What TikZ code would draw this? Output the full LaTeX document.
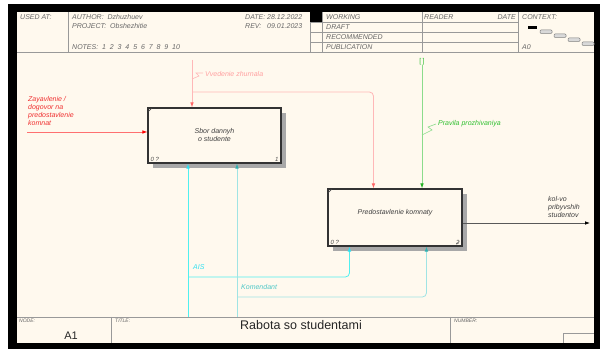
\documentclass[tikz,border=0pt]{standalone}
\usepackage{fontspec}
\setmainfont{Liberation Sans}
\usetikzlibrary{arrows.meta}
\definecolor{bgc}{HTML}{FFF9EE}
\definecolor{hdtxt}{HTML}{666666}
\definecolor{hdline}{HTML}{999999}
\definecolor{redtxt}{HTML}{F03030}
\definecolor{redln}{HTML}{FF7070}
\definecolor{pinkln}{HTML}{FFB8B8}
\definecolor{pinktxt}{HTML}{FFA0A0}
\definecolor{grnln}{HTML}{8CDC8C}
\definecolor{grntxt}{HTML}{30C030}
\definecolor{grntip}{HTML}{20B020}
\definecolor{aisln}{HTML}{50F0F0}
\definecolor{aistxt}{HTML}{30E0F0}
\definecolor{komln}{HTML}{A0E4E4}
\definecolor{komtxt}{HTML}{50C8C8}
\definecolor{komtip}{HTML}{30B0B0}
\definecolor{shadc}{HTML}{A8A8A8}
\begin{document}
\begin{tikzpicture}[x=1pt,y=-1pt,
  hd/.style={font=\fontsize{7}{8}\selectfont\itshape, text=hdtxt, inner sep=0pt, anchor=west},
  ft/.style={font=\fontsize{5}{6}\selectfont\itshape, text=hdtxt, inner sep=0pt, anchor=west},
  hline/.style={draw=hdline, line width=0.6pt},
  lbl/.style={font=\fontsize{7}{8}\selectfont\itshape, inner sep=0pt, anchor=west, align=left},
  boxn/.style={draw=black!80, line width=1.1pt, fill=bgc, minimum width=133pt, minimum height=55pt, inner sep=0pt},
  boxtxt/.style={font=\fontsize{7}{8.5}\selectfont\itshape, text=black!75, align=center, inner sep=0pt},
  corner/.style={font=\fontsize{6}{7}\selectfont\itshape, text=black!70, inner sep=0pt},
  arr/.style={line width=0.8pt}
]
\useasboundingbox (0,0) rectangle (602,352);
\fill[white] (0,0) rectangle (602,352);
\fill[black] (8,4) rectangle (600,349);
\fill[bgc] (17,12) rectangle (594,343);

% header
\draw[hline] (17,52) -- (594,52);
\draw[hline] (68,12) -- (68,52);
\draw[hline] (310,12) -- (310,52);
\draw[hline] (322,12) -- (322,52);
\draw[hline] (422,12) -- (422,52);
\draw[hline] (518,12) -- (518,52);
\foreach \yy in {22,32,42} \draw[hline] (310,\yy) -- (518,\yy);
\fill[black] (310,12) rectangle (322,22);

\node[hd] (usedat) at (20,17) {USED AT:};
\node[hd] (author) at (72,17) {AUTHOR:\ \ Dzhuzhuev};
\node[hd] (project) at (72,26) {PROJECT:\ \ Obshezhitie};
\node[hd] (notes) at (72,47) {NOTES:\ \ 1\ \ 2\ \ 3\ \ 4\ \ 5\ \ 6\ \ 7\ \ 8\ \ 9\ \ 10};
\node[hd] (datek) at (245,17) {DATE:};
\node[hd] (datev) at (267,17) {28.12.2022};
\node[hd] (revk) at (245,26) {REV:};
\node[hd] (revv) at (267,26) {09.01.2023};
\node[hd] (working) at (326,17) {WORKING};
\node[hd] (draft) at (326,27) {DRAFT};
\node[hd] (recom) at (326,37) {RECOMMENDED};
\node[hd] (publ) at (326,47) {PUBLICATION};
\node[hd] (reader) at (424,17) {READER};
\node[hd, anchor=east] (rdate) at (516,17) {DATE};
\node[hd] (context) at (522,17) {CONTEXT:};
\node[hd] (a0) at (522,47) {A0};
\fill[black] (528,26) rectangle (537,29);
\foreach \xa/\ya in {540/30,554/34,568/38,582/42}
  \draw[draw=gray, fill=black!15, line width=0.5pt, rounded corners=1pt] (\xa,\ya) rectangle ++(12,3.5);

% footer
\draw[hline] (17,317) -- (594,317);
\draw[hline] (111,317) -- (111,343);
\draw[hline] (450,317) -- (450,343);
\draw[hline] (563,343) -- (563,333) -- (594,333);
\node[ft] (nodek) at (19,321) {NODE:};
\node[font=\fontsize{11}{12}\selectfont, text=black!85, inner sep=0pt] (nodev) at (71,336) {A1};
\node[ft] (titlek) at (115,321) {TITLE:};
\node[font=\fontsize{12.5}{14}\selectfont, text=black!85, inner sep=0pt] (title) at (301,325) {Rabota so studentami};
\node[ft] (numk) at (454,321) {NUMBER:};

% boxes with shadows
\fill[shadc] (153,113) rectangle (286,168);
\fill[shadc] (333,194) rectangle (467,251);
\node[boxn] (b1) at (214.5,135.5) {};
\node[boxn, minimum width=134pt, minimum height=57pt] (b2) at (395,217.5) {};
\node[boxtxt] (b1t) at (214.5,135) {Sbor dannyh\\o studente};
\node[boxtxt] (b2t) at (395,213) {Predostavlenie komnaty};
\node[corner, anchor=south west] (b1n) at ([shift={(3,-2)}]b1.south west) {0 ?};
\node[corner, anchor=south east] (b1k) at ([shift={(-3,-2)}]b1.south east) {1};
\node[corner, anchor=south west] (b2n) at ([shift={(3,-2)}]b2.south west) {0 ?};
\node[corner, anchor=south east] (b2k) at ([shift={(-3,-2)}]b2.south east) {2};
\draw[line width=0.6pt, black!70] ([shift={(1,4)}]b1.north west) -- ([shift={(4,1)}]b1.north west);
\draw[line width=0.6pt, black!70] ([shift={(1,4)}]b2.north west) -- ([shift={(4,1)}]b2.north west);
\draw[line width=0.5pt, black!60] ([shift={(-6,-2)}]b2.south east) -- ([shift={(-3,-5)}]b2.south east);

% input
\coordinate (inA) at (27,132);
\draw[arr, redln, -{Latex[length=5pt,width=3.6pt,color=red]}] (inA) -- (inA -| b1.west);
\node[lbl, text=redtxt, anchor=north west] (inlbl) at (28,96) {Zayavlenie /\\dogovor na\\predostavlenie\\komnat};

% control: Vvedenie zhurnala
\coordinate (c1top) at (192,60);
\coordinate (c1br) at (192,92);
\draw[arr, pinkln, -{Latex[length=5pt,width=3.6pt,color=red!60]}] (c1top) -- (c1top |- b1.north);
\draw[arr, pinkln, rounded corners=4pt, -{Latex[length=5pt,width=3.6pt,color=red!60]}] (c1br) -| ([xshift=46pt]b2.north west);
\draw[pinkln, line width=0.6pt] (192,79) -- (199,76) -- (196,73) -- (203,73);
\node[lbl, text=pinktxt] (c1lbl) at (205,74) {Vvedenie zhurnala};

% control: Pravila prozhivaniya
\coordinate (gtop) at (422,65);
\node[font=\fontsize{7}{8}\selectfont, text=grntxt, inner sep=0pt] (tun) at (422,62) {[\,]};
\draw[arr, grnln, -{Latex[length=5pt,width=3.6pt,color=grntip]}] (gtop) -- (gtop |- b2.north);
\draw[grnln, line width=0.6pt] (422,135) -- (432,130) -- (428,127) -- (436,124);
\node[lbl, text=grntxt] (glbl) at (438,124) {Pravila prozhivaniya};

% mechanism: AIS
\coordinate (aisb) at (188,317);
\coordinate (aisbr) at (188,277);
\draw[arr, aisln, -{Latex[length=5pt,width=3.6pt,color=aistxt]}] (aisb) -- (aisb |- b1.south);
\draw[arr, aisln, rounded corners=4pt, -{Latex[length=5pt,width=3.6pt,color=aistxt]}] (aisbr) -| ([xshift=22pt]b2.south west);
\node[lbl, text=aistxt] (aislbl) at (193,267) {AIS};

% mechanism: Komendant
\coordinate (komb) at (237,317);
\coordinate (kombr) at (237,297);
\draw[arr, komln, -{Latex[length=5pt,width=3.6pt,color=komtip]}] (komb) -- (komb |- b1.south);
\draw[arr, komln, rounded corners=4pt, -{Latex[length=5pt,width=3.6pt,color=komtip]}] (kombr) -| ([xshift=99pt]b2.south west);
\node[lbl, text=komtxt] (komlbl) at (241,287) {Komendant};

% output
\coordinate (outE) at (590,223);
\draw[arr, black!65, -{Latex[length=5pt,width=3.6pt,color=black]}] (outE -| b2.east) -- (outE);
\node[lbl, text=black!75, anchor=north west] (outlbl) at (548,196) {kol-vo\\pribyvshih\\studentov};
\end{tikzpicture}
\end{document}
